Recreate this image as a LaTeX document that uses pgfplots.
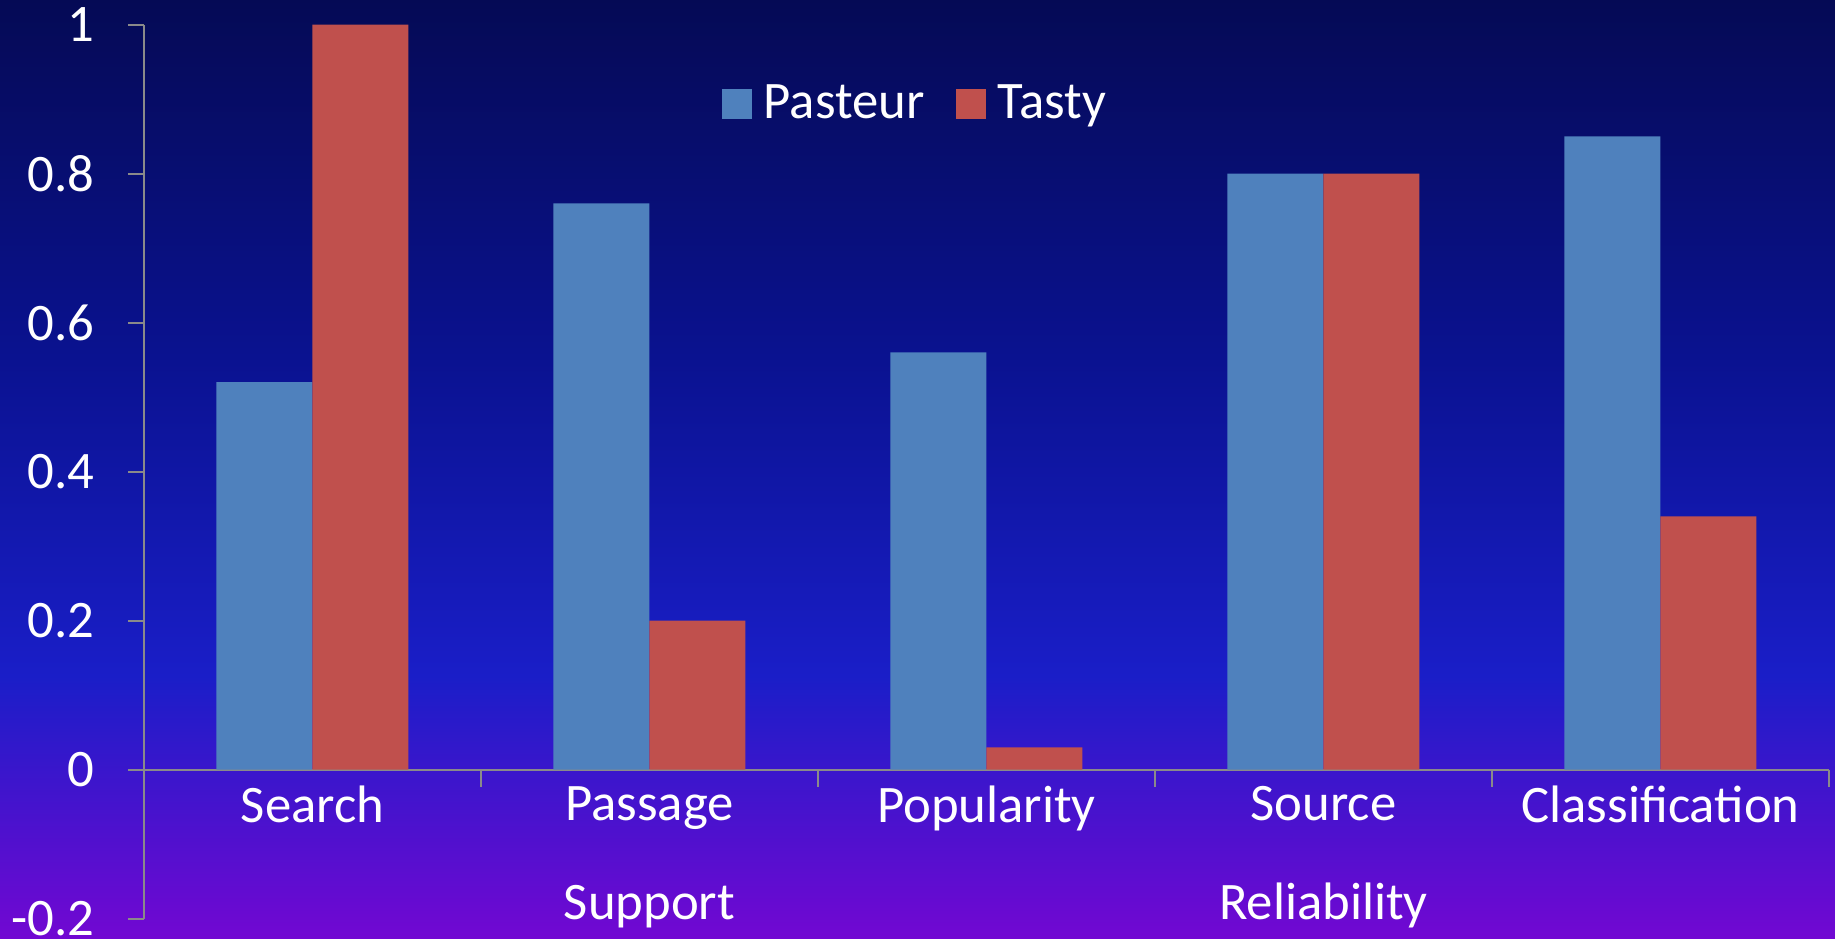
\documentclass[border=0pt]{standalone}
\usepackage{fontspec}
\setmainfont{Carlito}
\usepackage{pgfplots}
\pgfplotsset{compat=1.18}
\definecolor{pblue}{HTML}{4F81BD}
\definecolor{tred}{HTML}{C0504D}
\definecolor{axgray}{HTML}{8A8A8A}
\definecolor{bgtop}{HTML}{050A55}
\definecolor{bgmid}{HTML}{0A1290}
\definecolor{bgblue}{HTML}{1A1EC8}
\definecolor{bgbot}{HTML}{7208D2}
\pgfdeclareverticalshading{bgshade}{100bp}{color(0bp)=(bgbot); color(25bp)=(bgbot); color(39bp)=(bgblue); color(56bp)=(bgmid); color(75bp)=(bgtop); color(100bp)=(bgtop)}
\begin{document}
\begin{tikzpicture}
\useasboundingbox (0,0) rectangle (183.5mm,93.9mm);
\shade[shading=bgshade] (0,0) rectangle (183.5mm,93.9mm);
\begin{axis}[
  at={(14.4mm,2.03mm)}, anchor=south west,
  scale only axis, width=168.5mm, height=89.41mm,
  xmin=-0.5, xmax=4.5, ymin=-0.2, ymax=1,
  axis x line=middle, axis y line=left,
  axis line style={-, draw=axgray, line width=0.6pt},
  tick style={draw=axgray, line width=0.6pt},
  tick align=outside,
  major tick length=1.6mm,
  minor tick length=1.7mm,
  xtick={0,1,2,3,4},
  xticklabels={Search, {Passage\\Support}, Popularity, {Source\\Reliability}, Classification},
  minor xtick={0.5,1.5,2.5,3.5,4.5},
  major x tick style={draw=none},
  ytick={-0.2,0,0.2,0.4,0.6,0.8,1},
  yticklabels={-0.2,0,0.2,0.4,0.6,0.8,1},
  /pgf/number format/assume math mode=true,
  yticklabel style={anchor=east, inner sep=0pt, xshift=-3.3mm, text=white, font=\fontsize{15}{18}\selectfont},
  xticklabel style={anchor=north, inner sep=0pt, text=white, align=center, font=\fontsize{15}{28.2}\selectfont},
  ybar=0pt, bar width=9.6mm,
  clip=false,
  legend columns=2,
  legend style={draw=none, fill=none, text=white, font=\fontsize{15}{18}\selectfont,
    at={(0.459,0.911)}, anchor=center,
    /tikz/every even column/.append style={column sep=2.4mm},
    /tikz/every odd column/.append style={column sep=0.5mm}},
  legend image code/.code={\fill[#1] (0mm,-1.5mm) rectangle (3mm,1.5mm);},
]
\addplot[fill=pblue, draw=none] coordinates {(0,0.52) (1,0.76) (2,0.56) (3,0.80) (4,0.85)};
\addplot[fill=tred, draw=none] coordinates {(0,1.00) (1,0.20) (2,0.03) (3,0.80) (4,0.34)};
\legend{Pasteur, Tasty}
\end{axis}
\end{tikzpicture}
\end{document}
